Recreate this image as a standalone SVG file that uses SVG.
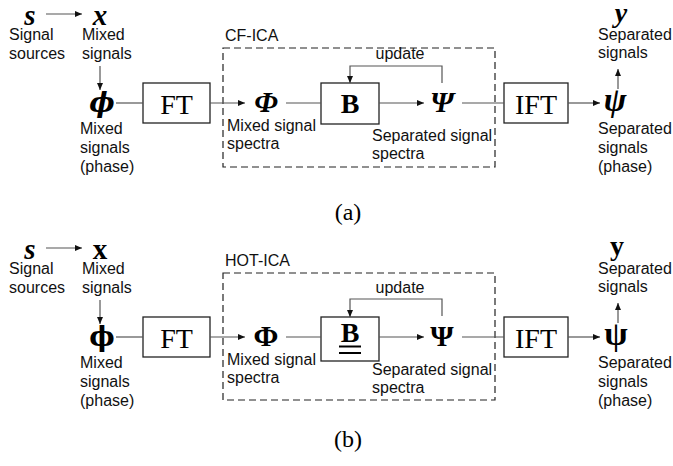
<svg xmlns="http://www.w3.org/2000/svg" width="673" height="466" viewBox="0 0 673 466">
<style>
.lbl{font-family:"Liberation Sans",Arial,sans-serif;font-size:16px;fill:#111}
.sym{font-family:"Liberation Serif","Times New Roman","DejaVu Serif",serif;font-weight:bold;fill:#000;text-anchor:middle}
.phi{font-family:"DejaVu Serif","Liberation Serif",serif;font-weight:bold;fill:#000;text-anchor:middle}
.it{font-style:italic}
.box{fill:#fff;stroke:#222;stroke-width:1.3}
.box-t{font-family:"Liberation Serif","Times New Roman",serif;font-size:28px;fill:#000;text-anchor:middle}
.dash{fill:none;stroke:#222;stroke-width:1.2;stroke-dasharray:7 4}
.ln{fill:none;stroke:#555;stroke-width:1.2}
.cap{font-family:"Liberation Serif","Times New Roman",serif;font-size:24px;fill:#000;text-anchor:middle}
</style>
<defs>
<marker id="ah" markerWidth="8" markerHeight="8" refX="7" refY="4" orient="auto" markerUnits="userSpaceOnUse">
<path d="M0,1 L7,4 L0,7 Z" fill="#111"/>
</marker>
</defs>

<!-- ===== Panel (a) ===== -->
<g id="a-frame">
<rect class="dash" x="223" y="48" width="272" height="119"/>
<text class="lbl" x="225" y="41">CF-ICA</text>
</g>
<g id="a-s">
<text class="sym it" x="30" y="25" font-size="29">s</text>
<text class="lbl" x="9" y="40">Signal</text>
<text class="lbl" x="9" y="59">sources</text>
</g>
<g id="a-x">
<text class="sym it" x="100" y="25" font-size="29">x</text>
<text class="lbl" x="82" y="40">Mixed</text>
<text class="lbl" x="82" y="59">signals</text>
</g>
<g id="a-phi">
<text class="phi it" x="102" y="112" font-size="27">ϕ</text>
<text class="lbl" x="80" y="134">Mixed</text>
<text class="lbl" x="80" y="153">signals</text>
<text class="lbl" x="80" y="172">(phase)</text>
</g>
<g id="a-FT">
<rect class="box" x="143" y="83" width="67" height="40"/>
<text class="box-t" x="176.5" y="114">FT</text>
</g>
<g id="a-Phi">
<text class="sym it" x="266" y="112" font-size="30">Φ</text>
<text class="lbl" x="227" y="131">Mixed signal</text>
<text class="lbl" x="227" y="149">spectra</text>
</g>
<g id="a-B">
<rect class="box" x="321" y="83" width="58" height="41"/>
<text class="box-t" x="350" y="113" font-weight="bold" font-size="30">B</text>
</g>
<g id="a-Psi">
<text class="sym it" x="442" y="112" font-size="30">Ψ</text>
<text class="lbl" x="372" y="141">Separated signal</text>
<text class="lbl" x="372" y="159">spectra</text>
</g>
<g id="a-IFT">
<rect class="box" x="504" y="83" width="64" height="40"/>
<text class="box-t" x="536" y="114">IFT</text>
</g>
<g id="a-psi">
<text class="sym it" x="615" y="111" font-size="34">ψ</text>
<text class="lbl" x="598" y="134">Separated</text>
<text class="lbl" x="598" y="153">signals</text>
<text class="lbl" x="598" y="172">(phase)</text>
</g>
<g id="a-y">
<text class="sym it" x="621" y="22" font-size="28">y</text>
<text class="lbl" x="598" y="40">Separated</text>
<text class="lbl" x="598" y="58">signals</text>
</g>
<text class="cap" x="348" y="220">(a)</text>

<g id="a-connectors">
<line class="ln" x1="46" y1="14" x2="82" y2="14" stroke="#111" marker-end="url(#ah)"/>
<line class="ln" x1="100" y1="66" x2="100" y2="90" stroke="#111" marker-end="url(#ah)"/>
<line class="ln" x1="116" y1="103" x2="143" y2="103"/>
<line class="ln" x1="210" y1="103" x2="245" y2="103" marker-end="url(#ah)"/>
<line class="ln" x1="286" y1="103" x2="321" y2="103"/>
<line class="ln" x1="379" y1="103" x2="424" y2="103" marker-end="url(#ah)"/>
<polyline class="ln" points="442,83 442,66 350,66 350,83" marker-end="url(#ah)"/>
<text class="lbl" x="400" y="59" text-anchor="middle">update</text>
<line class="ln" x1="462" y1="103" x2="504" y2="103"/>
<line class="ln" x1="568" y1="103" x2="600" y2="103" marker-end="url(#ah)"/>
<line class="ln" x1="618" y1="89" x2="618" y2="69" marker-end="url(#ah)"/>
</g>

<!-- ===== Panel (b) ===== -->
<g id="b-frame">
<rect class="dash" x="223" y="273" width="272" height="127"/>
<text class="lbl" x="225" y="266">HOT-ICA</text>
</g>
<g id="b-s">
<text class="sym it" x="30" y="259" font-size="29">s</text>
<text class="lbl" x="9" y="274">Signal</text>
<text class="lbl" x="9" y="293">sources</text>
</g>
<g id="b-x">
<text class="sym" x="100" y="259" font-size="29">x</text>
<text class="lbl" x="82" y="274">Mixed</text>
<text class="lbl" x="82" y="293">signals</text>
</g>
<g id="b-phi">
<text class="phi" x="102" y="346" font-size="27">ϕ</text>
<text class="lbl" x="80" y="368">Mixed</text>
<text class="lbl" x="80" y="387">signals</text>
<text class="lbl" x="80" y="406">(phase)</text>
</g>
<g id="b-FT">
<rect class="box" x="143" y="317" width="67" height="40"/>
<text class="box-t" x="176.5" y="348">FT</text>
</g>
<g id="b-Phi">
<text class="sym" x="266" y="346" font-size="30">Φ</text>
<text class="lbl" x="227" y="365">Mixed signal</text>
<text class="lbl" x="227" y="383">spectra</text>
</g>
<g id="b-B">
<rect class="box" x="321" y="317" width="58" height="44"/>
<text class="box-t" x="350" y="342" font-weight="bold" font-size="30">B</text>
<line x1="339" y1="346.5" x2="361" y2="346.5" stroke="#000" stroke-width="2"/>
<line x1="339" y1="353" x2="361" y2="353" stroke="#000" stroke-width="2"/>
</g>
<g id="b-Psi">
<text class="sym" x="442" y="346" font-size="30">Ψ</text>
<text class="lbl" x="372" y="375">Separated signal</text>
<text class="lbl" x="372" y="393">spectra</text>
</g>
<g id="b-IFT">
<rect class="box" x="504" y="317" width="64" height="40"/>
<text class="box-t" x="536" y="348">IFT</text>
</g>
<g id="b-psi">
<text class="sym" x="616" y="345" font-size="34">ψ</text>
<text class="lbl" x="598" y="368">Separated</text>
<text class="lbl" x="598" y="387">signals</text>
<text class="lbl" x="598" y="406">(phase)</text>
</g>
<g id="b-y">
<text class="sym" x="617" y="255" font-size="28">y</text>
<text class="lbl" x="598" y="274">Separated</text>
<text class="lbl" x="598" y="292">signals</text>
</g>
<text class="cap" x="348" y="447">(b)</text>

<g id="b-connectors">
<line class="ln" x1="46" y1="248" x2="82" y2="248" stroke="#111" marker-end="url(#ah)"/>
<line class="ln" x1="100" y1="300" x2="100" y2="324" stroke="#111" marker-end="url(#ah)"/>
<line class="ln" x1="116" y1="337" x2="143" y2="337"/>
<line class="ln" x1="210" y1="337" x2="245" y2="337" marker-end="url(#ah)"/>
<line class="ln" x1="286" y1="337" x2="321" y2="337"/>
<line class="ln" x1="379" y1="337" x2="424" y2="337" marker-end="url(#ah)"/>
<polyline class="ln" points="442,316 442,299 350,299 350,317" marker-end="url(#ah)"/>
<text class="lbl" x="400" y="293" text-anchor="middle">update</text>
<line class="ln" x1="462" y1="337" x2="504" y2="337"/>
<line class="ln" x1="568" y1="337" x2="600" y2="337" marker-end="url(#ah)"/>
<line class="ln" x1="618" y1="323" x2="618" y2="303" marker-end="url(#ah)"/>
</g>
</svg>
